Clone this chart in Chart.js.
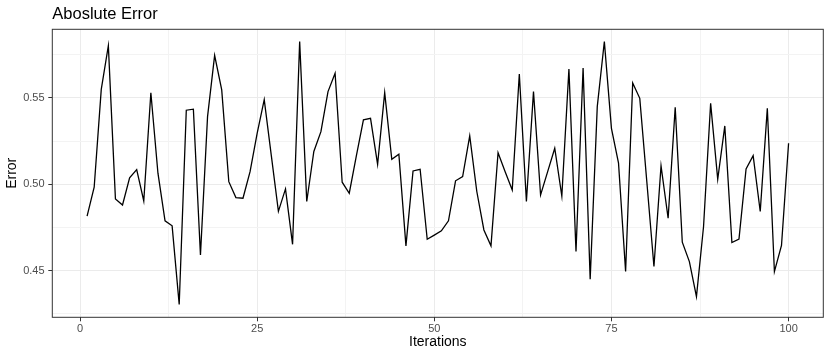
<!DOCTYPE html>
<html>
<head>
<meta charset="utf-8">
<title>Aboslute Error</title>
<script src="https://cdn.jsdelivr.net/npm/chart.js@4/dist/chart.umd.min.js"></script>
<style>
  html, body { margin: 0; padding: 0; background: #fff; }
  #wrap { width: 830px; height: 358px; position: relative; }
</style>
</head>
<body>
<div id="wrap"><canvas id="errChart"></canvas></div>
<script>
// absolute error per iteration
const errors = [
  0.4815, 0.4983, 0.5550, 0.5803, 0.4915, 0.4880, 0.5037, 0.5085, 0.4903, 0.5530,
  0.5064, 0.4788, 0.4759, 0.4303, 0.5429, 0.5435, 0.4590, 0.5392, 0.5747, 0.5547,
  0.5015, 0.4923, 0.4919, 0.5073, 0.5295, 0.5490, 0.5166, 0.4843, 0.4973, 0.4652,
  0.5827, 0.4900, 0.5190, 0.5305, 0.5537, 0.5643, 0.5012, 0.4948, 0.5164, 0.5373,
  0.5382, 0.5116, 0.5531, 0.5145, 0.5174, 0.4643, 0.5077, 0.5087, 0.4681, 0.4705,
  0.4730, 0.4788, 0.5020, 0.5044, 0.5280, 0.4958, 0.4735, 0.4643, 0.5183, 0.5073,
  0.4967, 0.5639, 0.4900, 0.5537, 0.4938, 0.5073, 0.5209, 0.4932, 0.5668, 0.4610,
  0.5674, 0.4450, 0.5450, 0.5827, 0.5324, 0.5122, 0.4494, 0.5587, 0.5498, 0.5012,
  0.4523, 0.5106, 0.4803, 0.5446, 0.4664, 0.4552, 0.4349, 0.4755, 0.5469, 0.5029,
  0.5338, 0.4662, 0.4683, 0.5089, 0.5166, 0.4842, 0.5440, 0.4494, 0.4645, 0.5238
];
const iterations = errors.map((_, i) => i + 1);

// axis breaks (major get labels, minor only grid lines)
const xMajor = [0, 25, 50, 75, 100];
const xMinor = [12.5, 37.5, 62.5, 87.5];
const yMajor = [0.45, 0.50, 0.55];
const yMinor = [0.425, 0.475, 0.525, 0.575];

const isMajor = (list, v) => list.some(m => Math.abs(m - v) < 1e-9);

// panel border like theme_bw
const panelBorder = {
  id: 'panelBorder',
  afterDraw(chart) {
    const a = chart.chartArea;
    const c = chart.ctx;
    c.save();
    c.strokeStyle = '#333333';
    c.lineWidth = 1;
    c.strokeRect(a.left, a.top, a.right - a.left, a.bottom - a.top);
    c.restore();
  }
};

const ctx = document.getElementById('errChart').getContext('2d');
const errChart = new Chart(ctx, {
  type: 'line',
  data: {
    datasets: [{
      data: iterations.map((x, i) => ({ x: x, y: errors[i] })),
      borderColor: '#000000',
      borderWidth: 1.3,
      pointRadius: 0,
      tension: 0,
      fill: false
    }]
  },
  options: {
    responsive: true,
    maintainAspectRatio: false,
    animation: false,
    layout: { padding: { left: 0, right: 6.7, top: 0, bottom: 0 } },
    plugins: {
      legend: { display: false },
      tooltip: { enabled: false },
      title: {
        display: true,
        text: 'Aboslute Error',
        align: 'start',
        fullSize: false,
        color: '#000000',
        font: { family: '"Liberation Sans", Arial, sans-serif', size: 16.5, weight: 'normal' },
        padding: { top: 4.6, bottom: 4.9 }
      }
    },
    scales: {
      x: {
        type: 'linear',
        min: -3.91,
        max: 104.9,
        afterBuildTicks: s => { s.ticks = xMajor.concat(xMinor).sort((a, b) => a - b).map(v => ({ value: v })); },
        afterFit: s => { s.height = 40.7; },
        border: { display: false },
        grid: {
          color: c => isMajor(xMajor, c.tick.value) ? '#EBEBEB' : '#F3F3F3',
          lineWidth: 1,
          drawTicks: true,
          tickLength: 4,
          tickColor: c => isMajor(xMajor, c.tick.value) ? '#333333' : 'rgba(0,0,0,0)'
        },
        ticks: {
          autoSkip: false,
          maxRotation: 0,
          padding: 1,
          color: '#4D4D4D',
          font: { family: '"Liberation Sans", Arial, sans-serif', size: 11 },
          callback: v => isMajor(xMajor, v) ? String(v) : ''
        },
        title: {
          display: true,
          text: 'Iterations',
          color: '#000000',
          font: { family: '"Liberation Sans", Arial, sans-serif', size: 14 },
          padding: { top: 0, bottom: 7 }
        }
      },
      y: {
        type: 'linear',
        min: 0.4229,
        max: 0.5898,
        afterBuildTicks: s => { s.ticks = yMajor.concat(yMinor).sort((a, b) => a - b).map(v => ({ value: v })); },
        afterFit: s => { s.width = 52.3; },
        border: { display: false },
        grid: {
          color: c => isMajor(yMajor, c.tick.value) ? '#EBEBEB' : '#F3F3F3',
          lineWidth: 1,
          drawTicks: true,
          tickLength: 4,
          tickColor: c => isMajor(yMajor, c.tick.value) ? '#333333' : 'rgba(0,0,0,0)'
        },
        ticks: {
          autoSkip: false,
          padding: 3.7,
          color: '#4D4D4D',
          font: { family: '"Liberation Sans", Arial, sans-serif', size: 11 },
          callback: v => isMajor(yMajor, v) ? v.toFixed(2) : ''
        },
        title: {
          display: true,
          text: 'Error',
          color: '#000000',
          font: { family: '"Liberation Sans", Arial, sans-serif', size: 14 },
          padding: { top: 4, bottom: 0 }
        }
      }
    }
  },
  plugins: [panelBorder]
});
</script>
</body>
</html>
